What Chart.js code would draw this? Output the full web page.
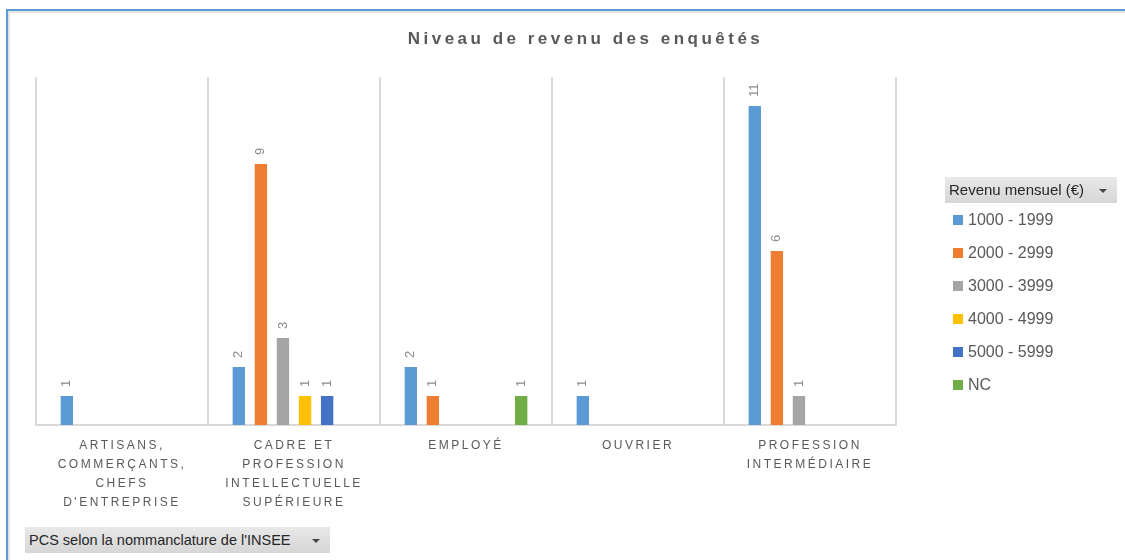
<!DOCTYPE html>
<html>
<head>
<meta charset="utf-8">
<script src="https://cdn.jsdelivr.net/npm/chart.js@4"></script>
<style>
  html, body { margin: 0; padding: 0; background: #fff; }
  #wrap { position: relative; width: 1125px; height: 560px; overflow: hidden; font-family: "Liberation Sans", Arial, sans-serif; }
  #frame { position: absolute; left: 6px; top: 9px; width: 1130px; height: 560px; border-left: 2px solid #5b9bd5; border-top: 2px solid #5b9bd5; box-shadow: inset 2px 2px 0 #e4e4e4; }
  #c { position: absolute; left: 0; top: 0; }
  #title { position: absolute; left: 0; top: 29px; width: 1125px; box-sizing: border-box; padding-left: 46px; text-align: center; font: bold 17px "Liberation Sans", Arial, sans-serif; letter-spacing: 3.5px; color: #595959; }
  #legend { position: absolute; left: 945px; top: 177px; }
  .btn { background: linear-gradient(#e8e8e8, #d6d6d6); color: #262626; font-size: 15px; height: 26px; line-height: 26px; box-sizing: border-box; position: relative; }
  .btn .tri { position: absolute; width: 0; height: 0; border-left: 4px solid transparent; border-right: 4px solid transparent; border-top: 4px solid #444; top: 12px; }
  #legHead { width: 172px; padding-left: 4px; }
  #legHead .tri { left: 154px; }
  .item { position: absolute; left: 8px; font-size: 16px; color: #595959; white-space: nowrap; height: 20px; line-height: 20px; }
  .item span.sw { display: inline-block; width: 10px; height: 10px; margin-right: 5px; vertical-align: 0px; }
  #pcs { position: absolute; left: 25px; top: 527px; width: 305px; padding-left: 4px; font-size: 14.5px; }
  #pcs .tri { left: 287px; }
</style>
</head>
<body>
<div id="wrap">
  <div id="frame"></div>
  <canvas id="c" width="1125" height="560"></canvas>
  <div id="title"></div>
  <div id="legend"></div>
  <div id="pcs" class="btn"></div>
</div>
<script>
// ---- Data ----
const chartTitle = "Niveau de revenu des enquêtés";
const legendTitle = "Revenu mensuel (€)";
const axisButtonLabel = "PCS selon la nommanclature de l'INSEE";
const categories = [
  "Artisans, commerçants, chefs d'entreprise",
  "Cadre et profession intellectuelle supérieure",
  "Employé",
  "Ouvrier",
  "Profession intermédiaire"
];
const tickLabels = [
  ["ARTISANS,", "COMMERÇANTS,", "CHEFS", "D'ENTREPRISE"],
  ["CADRE ET", "PROFESSION", "INTELLECTUELLE", "SUPÉRIEURE"],
  ["EMPLOYÉ"],
  ["OUVRIER"],
  ["PROFESSION", "INTERMÉDIAIRE"]
];
const seriesNames = ["1000 - 1999", "2000 - 2999", "3000 - 3999", "4000 - 4999", "5000 - 5999", "NC"];
const seriesColors = ["#5b9bd5", "#ed7d31", "#a5a5a5", "#ffc000", "#4472c4", "#70ad47"];
const rev1000 = [1, 2, 2, 1, 11];
const rev2000 = [null, 9, 1, null, 6];
const rev3000 = [null, 3, null, null, 1];
const rev4000 = [null, 1, null, null, null];
const rev5000 = [null, 1, null, null, null];
const revNC   = [null, null, 1, null, null];
const seriesValues = [rev1000, rev2000, rev3000, rev4000, rev5000, revNC];
const yMax = 12;

// ---- HTML parts ----
document.getElementById('title').textContent = chartTitle;
document.getElementById('pcs').innerHTML = '<span></span><div class="tri"></div>';
document.getElementById('pcs').firstChild.textContent = axisButtonLabel;
const leg = document.getElementById('legend');
const head = document.createElement('div');
head.id = 'legHead'; head.className = 'btn';
head.innerHTML = '<span></span><div class="tri"></div>';
head.firstChild.textContent = legendTitle;
leg.appendChild(head);
const itemTops = [33, 66, 99, 132, 165, 198];
seriesNames.forEach((n, i) => {
  const d = document.createElement('div');
  d.className = 'item';
  d.style.top = (itemTops[i]) + 'px';
  d.innerHTML = '<span class="sw" style="background:' + seriesColors[i] + '"></span><span></span>';
  d.lastChild.textContent = n;
  leg.appendChild(d);
});

// ---- Plugins ----
const valueLabels = {
  id: 'valueLabels',
  afterDatasetsDraw(chart) {
    const ctx = chart.ctx;
    chart.data.datasets.forEach((ds, di) => {
      const meta = chart.getDatasetMeta(di);
      meta.data.forEach((bar, i) => {
        const v = ds.data[i];
        if (v === null || v === undefined) return;
        ctx.save();
        ctx.translate(bar.x, bar.y - 9);
        ctx.rotate(-Math.PI / 2);
        ctx.font = '13px "Liberation Sans", Arial, sans-serif';
        ctx.fillStyle = '#8c8c8c';
        ctx.textAlign = 'left';
        ctx.textBaseline = 'middle';
        ctx.fillText(String(v), 0, 0);
        ctx.restore();
      });
    });
  }
};
const categoryLabels = {
  id: 'categoryLabels',
  afterDraw(chart) {
    const ctx = chart.ctx;
    const xs = chart.scales.x;
    ctx.save();
    ctx.font = '12px "Liberation Sans", Arial, sans-serif';
    ctx.fillStyle = '#595959';
    ctx.textAlign = 'center';
    ctx.textBaseline = 'middle';
    try { ctx.letterSpacing = '2.5px'; } catch (e) {}
    chart.data.labels.forEach((lines, i) => {
      const x = xs.getPixelForValue(i);
      lines.forEach((ln, k) => {
        ctx.fillText(ln, x, chart.chartArea.bottom + 21 + k * 19);
      });
    });
    ctx.restore();
  }
};

// ---- Chart ----
new Chart(document.getElementById('c'), {
  type: 'bar',
  data: {
    labels: tickLabels,
    datasets: seriesNames.map((n, i) => ({
      label: n,
      data: seriesValues[i],
      backgroundColor: seriesColors[i],
      borderWidth: 0,
      categoryPercentage: 0.77,
      barPercentage: 0.56
    }))
  },
  options: {
    responsive: false,
    animation: false,
    devicePixelRatio: 1,
    layout: { padding: { left: 36, right: 229, top: 77, bottom: 135 } },
    plugins: { legend: { display: false }, title: { display: false }, tooltip: { enabled: false } },
    scales: {
      x: {
        offset: true,
        grid: { display: true, offset: true, drawTicks: false, color: '#d9d9d9', lineWidth: 2 },
        border: { display: true, color: '#d9d9d9', width: 2 },
        ticks: { display: false }
      },
      y: {
        display: false,
        min: 0,
        max: yMax
      }
    }
  },
  plugins: [valueLabels, categoryLabels]
});
</script>
</body>
</html>
